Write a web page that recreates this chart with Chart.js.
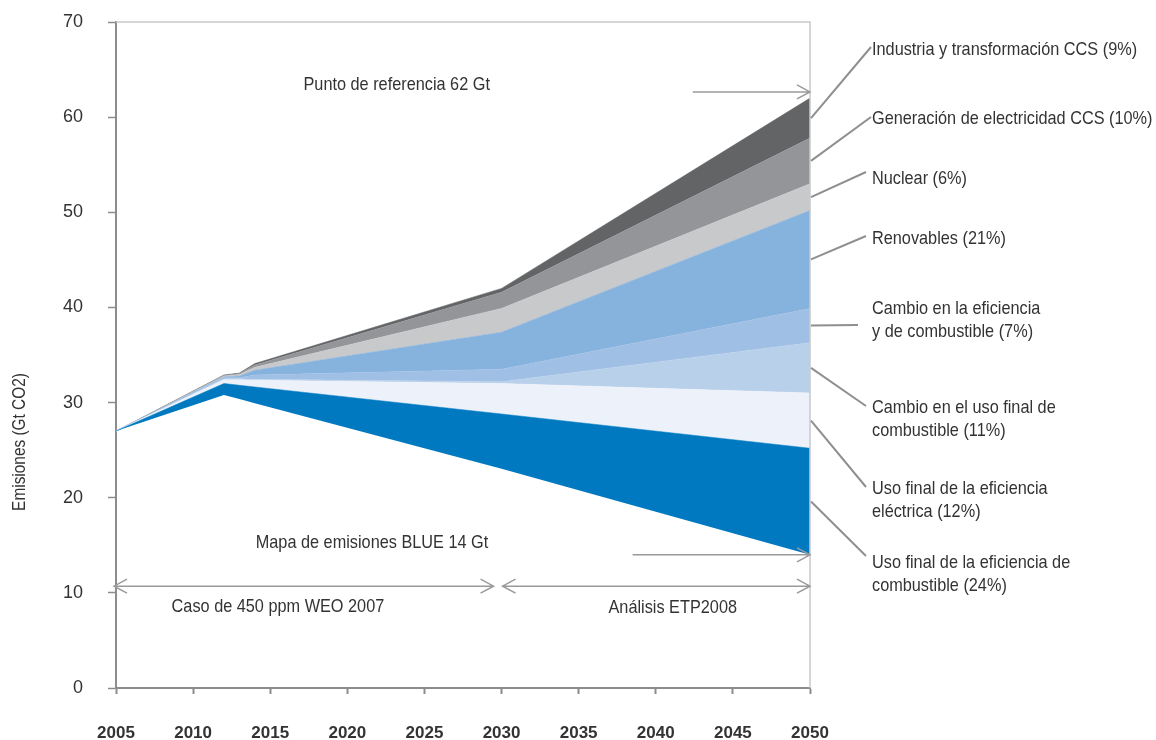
<!DOCTYPE html>
<html>
<head>
<meta charset="utf-8">
<script src="https://cdn.jsdelivr.net/npm/chart.js@4"></script>
<style>
  html, body { margin: 0; padding: 0; background: #fff; }
  #wrap { width: 1156px; height: 740px; }
</style>
</head>
<body>
<div id="wrap"><canvas id="emisionesChart" width="1156" height="740"></canvas></div>
<script>
// Años con cambio de pendiente
const years = [2005, 2012, 2013, 2014, 2030, 2050];

// Mapa BLUE (borde inferior), Gt CO2
const blueMap = [27, 30.8, 30.37, 29.94, 23.05, 14.0];

// Cuñas de reducción, de abajo hacia arriba (Gt CO2)
const usoFinalCombustible = [0, 1.2, 1.45, 1.7, 5.75, 11.2];
const usoFinalElectrica = [0, 0.4, 0.58, 0.71, 3.2, 5.8];
const cambioUsoFinal = [0, 0.1, 0.1, 0.1, 0.2, 5.3];
const cambioEficiencia = [0, 0.1, 0.1, 0.45, 1.3, 3.6];
const renovables = [0, 0.1, 0.2, 0.5, 3.9, 10.3];
const nuclear = [0, 0.1, 0.15, 0.3, 2.5, 2.8];
const ccsElectricidad = [0, 0.05, 0.1, 0.25, 1.7, 4.8];
const ccsIndustria = [0, 0.05, 0.05, 0.15, 0.4, 4.2];

const wedges = [usoFinalCombustible, usoFinalElectrica, cambioUsoFinal, cambioEficiencia,
                renovables, nuclear, ccsElectricidad, ccsIndustria];
const wedgeColors = ['#0079c1', '#edf2fa', '#b9d0ea', '#a0bfe4', '#86b2de', '#c8c9cb', '#939598', '#636466'];

// Etiquetas a la derecha (mismo orden que las cuñas)
const wedgeLabels = [
    ['Uso final de la eficiencia de', 'combustible (24%)'],
    ['Uso final de la eficiencia', 'eléctrica (12%)'],
    ['Cambio en el uso final de', 'combustible (11%)'],
    ['Cambio en la eficiencia', 'y de combustible (7%)'],
    ['Renovables (21%)'],
    ['Nuclear (6%)'],
    ['Generación de electricidad CCS (10%)'],
    ['Industria y transformación CCS (9%)']
];
// posición del texto (y de la primera línea) y fin de la línea guía
const labelPos = [
    { ty: 563, ex: 866, ey: 556 },
    { ty: 489, ex: 866, ey: 487 },
    { ty: 408, ex: 866, ey: 406 },
    { ty: 309, ex: 858, ey: 325 },
    { ty: 239, ex: 866, ey: 236 },
    { ty: 179, ex: 866, ey: 172 },
    { ty: 119, ex: 871, ey: 117 },
    { ty: 50, ex: 871, ey: 47 }
];

const xTicks = [2005, 2010, 2015, 2020, 2025, 2030, 2035, 2040, 2045, 2050];
const yTicks = [0, 10, 20, 30, 40, 50, 60, 70];

const FONT = "'Liberation Sans', Arial, sans-serif";
const TEXT = '#333333';
const AXIS = '#8c8c8c';

Chart.defaults.font.family = FONT;
Chart.defaults.color = TEXT;

function toPoints(arr) {
    return years.map((yr, i) => ({ x: yr, y: arr[i] }));
}

const datasets = [{
    label: 'Mapa BLUE',
    data: toPoints(blueMap),
    fill: false,
    borderWidth: 0,
    borderColor: 'rgba(0,0,0,0)',
    pointRadius: 0
}];
wedges.forEach((w, i) => {
    datasets.push({
        label: wedgeLabels[i].join(' '),
        data: toPoints(w),
        fill: '-1',
        backgroundColor: wedgeColors[i],
        borderColor: wedgeColors[i],
        borderWidth: 0.5,
        pointRadius: 0,
        tension: 0
    });
});

// Texto estrecho (fuente condensada simulada)
function narrowText(ctx, str, x, y, align) {
    ctx.save();
    ctx.translate(x, y);
    ctx.scale(0.88, 1);
    ctx.textAlign = align;
    ctx.fillText(str, 0, 0);
    ctx.restore();
}

// Flecha horizontal con puntas abiertas
function arrow(ctx, x1, x2, y, left, right) {
    ctx.beginPath();
    ctx.moveTo(x1, y);
    ctx.lineTo(x2, y);
    if (right) {
        ctx.moveTo(x2 - 13, y - 7);
        ctx.lineTo(x2, y);
        ctx.lineTo(x2 - 13, y + 7);
    }
    if (left) {
        ctx.moveTo(x1 + 13, y - 7);
        ctx.lineTo(x1, y);
        ctx.lineTo(x1 + 13, y + 7);
    }
    ctx.stroke();
}

const annotations = {
    id: 'annotations',
    afterDraw(chart) {
        const { ctx, chartArea, scales: { x, y } } = chart;
        ctx.save();

        // marco superior y derecho
        ctx.strokeStyle = '#c9c9c9';
        ctx.lineWidth = 1.5;
        ctx.beginPath();
        ctx.moveTo(chartArea.left, chartArea.top);
        ctx.lineTo(chartArea.right, chartArea.top);
        ctx.lineTo(chartArea.right, chartArea.bottom);
        ctx.stroke();

        ctx.fillStyle = TEXT;
        ctx.font = '18.5px ' + FONT;
        ctx.textBaseline = 'middle';

        // Punto de referencia / Mapa BLUE
        const last = years.length - 1;
        let top = blueMap[last];
        wedges.forEach(w => top += w[last]);
        narrowText(ctx, 'Punto de referencia ' + Math.round(top) + ' Gt', x.getPixelForValue(2023.2), y.getPixelForValue(63.4), 'center');
        narrowText(ctx, 'Mapa de emisiones BLUE ' + Math.round(blueMap[last]) + ' Gt', x.getPixelForValue(2021.6), y.getPixelForValue(15.25), 'center');
        narrowText(ctx, 'Caso de 450 ppm WEO 2007', x.getPixelForValue(2015.5), y.getPixelForValue(8.5), 'center');
        narrowText(ctx, 'Análisis ETP2008', x.getPixelForValue(2041.1), y.getPixelForValue(8.4), 'center');

        ctx.strokeStyle = '#9a9a9a';
        ctx.lineWidth = 1.5;
        arrow(ctx, x.getPixelForValue(2042.4), chartArea.right, y.getPixelForValue(top + 0.65), false, true);
        arrow(ctx, x.getPixelForValue(2038.5), chartArea.right, y.getPixelForValue(blueMap[last]), false, true);
        const yArr = y.getPixelForValue(10.7);
        arrow(ctx, chartArea.left - 2, x.getPixelForValue(2030) - 8, yArr, true, true);
        arrow(ctx, x.getPixelForValue(2030) + 1, chartArea.right, yArr, true, true);

        // líneas guía y etiquetas de cuñas
        ctx.strokeStyle = '#8f8f8f';
        ctx.lineWidth = 2;
        let base = blueMap[last];
        wedges.forEach((w, i) => {
            const mid = base + w[last] / 2;
            base += w[last];
            const p = labelPos[i];
            ctx.beginPath();
            ctx.moveTo(chartArea.right + 1, y.getPixelForValue(mid));
            ctx.lineTo(p.ex, p.ey);
            ctx.stroke();
            wedgeLabels[i].forEach((line, j) => {
                narrowText(ctx, line, 872, p.ty + j * 22.5, 'left');
            });
        });

        // título del eje Y
        ctx.font = '17.5px ' + FONT;
        ctx.translate(20, 442);
        ctx.rotate(-Math.PI / 2);
        narrowText(ctx, 'Emisiones (Gt CO2)', 0, 0, 'center');
        ctx.restore();
    }
};

new Chart(document.getElementById('emisionesChart').getContext('2d'), {
    type: 'line',
    data: { datasets: datasets },
    options: {
        responsive: false,
        animation: false,
        layout: { padding: { left: 0, right: 346, top: 22, bottom: 0 } },
        plugins: { legend: { display: false }, tooltip: { enabled: false } },
        elements: { line: { tension: 0 } },
        scales: {
            x: {
                type: 'linear',
                min: 2005,
                max: 2050,
                afterBuildTicks: s => { s.ticks = xTicks.map(v => ({ value: v })); },
                afterFit: s => { s.height = 52; s.paddingLeft = 0; s.paddingRight = 0; },
                ticks: {
                    padding: 29,
                    maxRotation: 0,
                    font: { size: 17, weight: 'bold' },
                    color: '#333333',
                    callback: v => String(v)
                },
                grid: { drawOnChartArea: false, drawTicks: true, tickLength: 6, tickColor: AXIS, tickWidth: 2 },
                border: { color: AXIS, width: 2 }
            },
            y: {
                stacked: true,
                min: 0,
                max: 70,
                afterBuildTicks: s => { s.ticks = yTicks.map(v => ({ value: v })); },
                afterFit: s => { s.width = 116; s.paddingTop = 0; s.paddingBottom = 0; },
                ticks: { padding: 25, font: { size: 18 }, color: '#333333' },
                grid: { drawOnChartArea: false, drawTicks: true, tickLength: 8, tickColor: AXIS, tickWidth: 1.5 },
                border: { color: AXIS, width: 2 }
            }
        }
    },
    plugins: [annotations]
});
</script>
</body>
</html>
